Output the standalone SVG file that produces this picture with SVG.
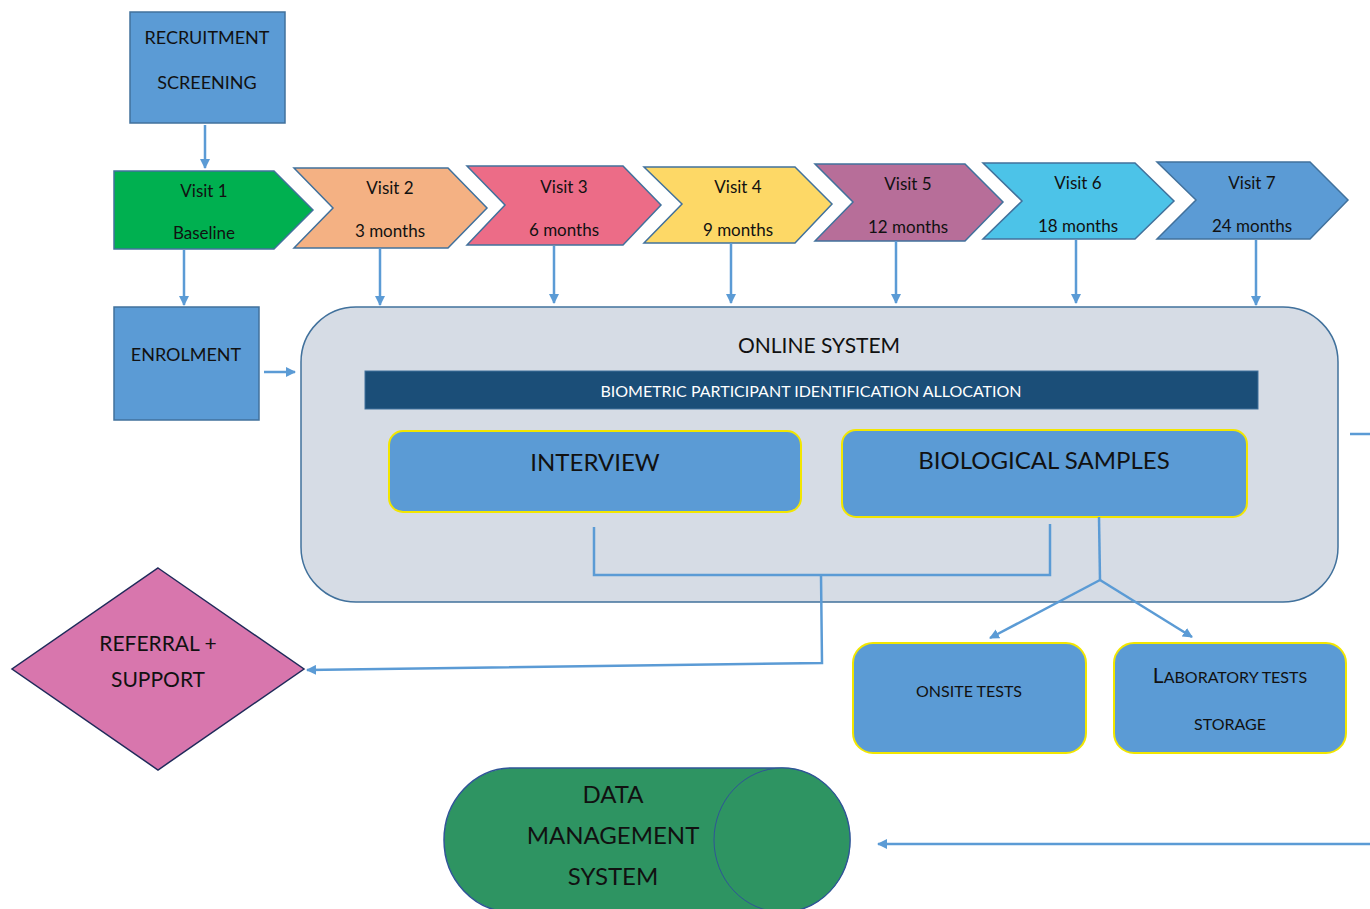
<svg xmlns="http://www.w3.org/2000/svg" width="1370" height="909" viewBox="0 0 1370 909">
<style>
text{font-family:Lato,"Open Sans","Liberation Sans",sans-serif;fill:#111;text-anchor:middle}
.box{fill:#5b9bd5;stroke:#41719c;stroke-width:1.5}
.ybox{fill:#5b9bd5;stroke:#f2e600;stroke-width:2}
.chev{stroke:#41719c;stroke-width:1.5}
.conn{fill:none;stroke:#5b9bd5;stroke-width:2.5}
.v{font-size:17px}
</style>
<defs>
<marker id="ah" viewBox="0 0 10 10" refX="9" refY="5" markerWidth="4" markerHeight="4" orient="auto-start-reverse" markerUnits="strokeWidth">
<path d="M0,0 L10,5 L0,10 z" fill="#5b9bd5"/>
</marker>
</defs>
<rect width="1370" height="909" fill="#fff"/>

<g id="online-system">
<rect x="301" y="307" width="1037" height="295" rx="55" fill="#d6dce5" stroke="#41719c" stroke-width="1.5"/>
<text x="819" y="353" font-size="21">ONLINE SYSTEM</text>
</g>
<g id="biometric">
<rect x="365" y="371" width="893" height="38" fill="#1b4e78" stroke="#41719c" stroke-width="1"/>
<text x="811" y="397" font-size="16" style="fill:#fff">BIOMETRIC PARTICIPANT IDENTIFICATION ALLOCATION</text>
</g>
<g id="interview">
<rect class="ybox" x="389" y="431" width="412" height="81" rx="14"/>
<text x="595" y="471" font-size="24">INTERVIEW</text>
</g>
<g id="biological-samples">
<rect class="ybox" x="842" y="430" width="405" height="87" rx="14"/>
<text x="1044" y="469" font-size="24">BIOLOGICAL SAMPLES</text>
</g>

<g id="recruitment">
<rect class="box" x="130" y="12" width="155" height="111"/>
<text x="207" y="44" font-size="18">RECRUITMENT</text>
<text x="207" y="89" font-size="18">SCREENING</text>
</g>

<g id="visit1">
<polygon class="chev" fill="#00b050" points="114,171 274,171 313,210 274,249 114,249"/>
<text class="v" x="204" y="197">Visit 1</text>
<text class="v" x="204" y="239">Baseline</text>
</g>
<g id="visit2">
<polygon class="chev" fill="#f4b183" points="294,168 448,168 487,208 448,248 294,248 333,208"/>
<text class="v" x="390" y="194">Visit 2</text>
<text class="v" x="390" y="237">3 months</text>
</g>
<g id="visit3">
<polygon class="chev" fill="#ec6c87" points="467,166 623,166 661,205 623,245 467,245 505,205"/>
<text class="v" x="564" y="193">Visit 3</text>
<text class="v" x="564" y="236">6 months</text>
</g>
<g id="visit4">
<polygon class="chev" fill="#fdd866" points="644,167 795,167 832,204 795,243 644,243 682,204"/>
<text class="v" x="738" y="193">Visit 4</text>
<text class="v" x="738" y="236">9 months</text>
</g>
<g id="visit5">
<polygon class="chev" fill="#b76e99" points="815,164 965,164 1003,202 965,241 815,241 853,202"/>
<text class="v" x="908" y="190">Visit 5</text>
<text class="v" x="908" y="233">12 months</text>
</g>
<g id="visit6">
<polygon class="chev" fill="#4cc3e8" points="983,163 1135,163 1174,201 1135,239 983,239 1022,201"/>
<text class="v" x="1078" y="189">Visit 6</text>
<text class="v" x="1078" y="232">18 months</text>
</g>
<g id="visit7">
<polygon class="chev" fill="#5b9bd5" points="1157,162 1310,162 1348,200 1310,239 1157,239 1196,200"/>
<text class="v" x="1252" y="189">Visit 7</text>
<text class="v" x="1252" y="232">24 months</text>
</g>

<g id="enrolment">
<rect class="box" x="114" y="307" width="145" height="113"/>
<text x="186" y="361" font-size="18">ENROLMENT</text>
</g>

<g id="referral">
<polygon points="158,568 304,669 158,770 12,669" fill="#d876ad" stroke="#1f2a5a" stroke-width="1.5"/>
<text x="158" y="651" font-size="21">REFERRAL +</text>
<text x="158" y="687" font-size="21">SUPPORT</text>
</g>

<g id="onsite-tests">
<rect class="ybox" x="853" y="643" width="233" height="110" rx="20"/>
<text x="969" y="697" font-size="16">ONSITE TESTS</text>
</g>
<g id="laboratory-tests">
<rect class="ybox" x="1114" y="643" width="232" height="110" rx="20"/>
<text x="1230" y="683" font-size="16"><tspan font-size="21">L</tspan>ABORATORY TESTS</text>
<text x="1230" y="730" font-size="16">STORAGE</text>
</g>

<g id="data-management">
<path d="M512,768 L782,768 A68,72 0 0 1 782,912 L512,912 A68,72 0 0 1 512,768 Z" fill="#2e9462" stroke="#2f5597" stroke-width="1.5"/>
<ellipse cx="782" cy="840" rx="68" ry="72" fill="#2e9462" stroke="#2f5597" stroke-width="1"/>
<text x="613" y="803" font-size="24">DATA</text>
<text x="613" y="844" font-size="24">MANAGEMENT</text>
<text x="613" y="885" font-size="24">SYSTEM</text>
</g>

<g id="connectors">
<path class="conn" d="M205,125 L205,168" marker-end="url(#ah)"/>
<path class="conn" d="M184,250 L184,305" marker-end="url(#ah)"/>
<path class="conn" d="M380,248 L380,305" marker-end="url(#ah)"/>
<path class="conn" d="M554,246 L554,303" marker-end="url(#ah)"/>
<path class="conn" d="M731,243 L731,303" marker-end="url(#ah)"/>
<path class="conn" d="M896,241 L896,303" marker-end="url(#ah)"/>
<path class="conn" d="M1076,240 L1076,303" marker-end="url(#ah)"/>
<path class="conn" d="M1256,240 L1256,305" marker-end="url(#ah)"/>
<path class="conn" d="M264,372 L295,372" marker-end="url(#ah)"/>
<path class="conn" d="M594,527 L594,575 L1050,575 L1050,524"/>
<path class="conn" d="M821,575 L822,663 L307,670" marker-end="url(#ah)"/>
<path class="conn" d="M1099,517 L1100,580"/>
<path class="conn" d="M1100,580 L990,638" marker-end="url(#ah)"/>
<path class="conn" d="M1100,580 L1192,637" marker-end="url(#ah)"/>
<path class="conn" d="M1350,434 L1370,434"/>
<path class="conn" d="M1370,844 L878,844" marker-end="url(#ah)"/>
</g>
</svg>
